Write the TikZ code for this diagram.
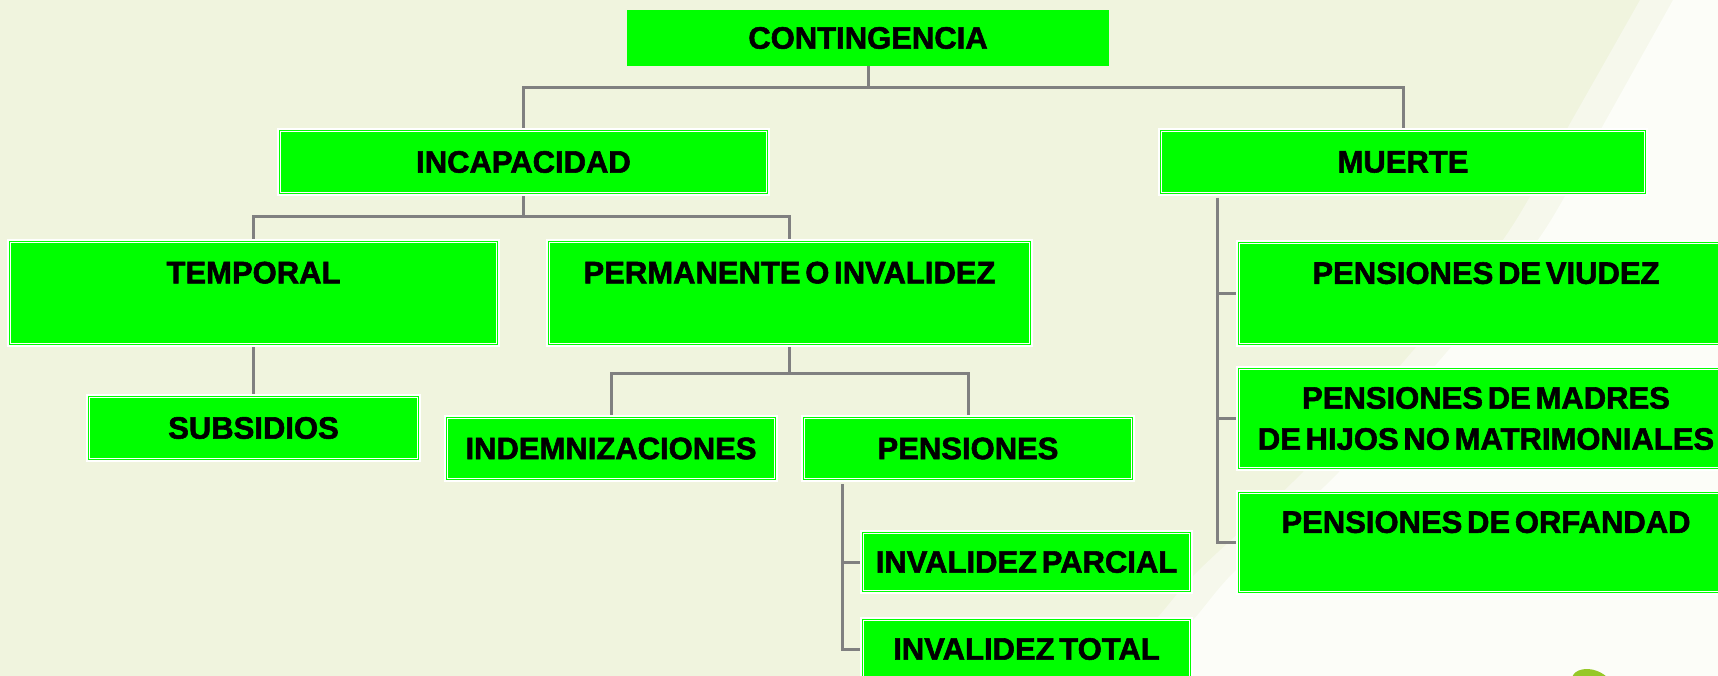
\documentclass[tikz,border=0pt]{standalone}
\usepackage{fontspec}
\setmainfont{Liberation Sans}[BoldFeatures={FakeBold=1.8}, WordSpace=0.55]
\usetikzlibrary{calc}
\pgfdeclarelayer{background}
\pgfsetlayers{background,main}
\definecolor{bgc}{RGB}{240,244,222}
\definecolor{wsw}{RGB}{252,253,248}
\definecolor{band}{RGB}{246,248,236}
\definecolor{G}{RGB}{0,255,0}
\definecolor{lc}{RGB}{128,128,128}
\definecolor{leaf}{RGB}{150,200,40}
\begin{document}
\begin{tikzpicture}[x=1pt,y=-1pt,
  font=\fontsize{31}{41}\selectfont\bfseries,
  gbox/.style={fill=G, draw=G, line width=1.2pt, double=white, double distance=1pt,
    preaction={draw=white, line width=7.4pt},
    inner sep=0pt, outer sep=0pt, align=center, text=black},
  plainbox/.style={fill=G, inner sep=0pt, outer sep=0pt, align=center, text=black},
  conn/.style={draw=lc, line width=3pt}]
\useasboundingbox (0,0) rectangle (1718,676);
\begin{pgfonlayer}{background}
  \fill[bgc] (0,0) rectangle (1718,676);
  \fill[band] plot[smooth] coordinates {(1640,0) (1572,120) (1505,237) (1405,360) (1302,473) (1196,573) (1148,627) (1080,676)}
     -- (1718,676) -- (1718,0) -- cycle;
  \fill[wsw] plot[smooth] coordinates {(1673,0) (1606,120) (1540,237) (1440,360) (1338,473) (1233,573) (1186,627) (1120,676)}
     -- (1718,676) -- (1718,0) -- cycle;
  \fill[leaf, rotate around={-20:(1592,684)}] (1592,684) ellipse (21 and 14);
\end{pgfonlayer}

\node[plainbox, minimum width=482pt, minimum height=56pt] (cont) at (868,38) {CONTINGENCIA};
\node[gbox, minimum width=485.6pt, minimum height=60.6pt] (incap) at (523.5,162) {INCAPACIDAD};
\node[gbox, minimum width=482.6pt, minimum height=60.6pt] (muerte) at (1403,162) {MUERTE};
\node[gbox, minimum width=485.6pt, minimum height=100.6pt] (temporal) at (253.5,293) {TEMPORAL\\~};
\node[gbox, minimum width=479.6pt, minimum height=100.6pt] (perm) at (789.5,293) {PERMANENTE O INVALIDEZ\\~};
\node[gbox, minimum width=327.6pt, minimum height=60.6pt] (subs) at (253.5,428) {SUBSIDIOS};
\node[gbox, minimum width=326.6pt, minimum height=59.6pt] (indem) at (611,448.5) {INDEMNIZACIONES};
\node[gbox, minimum width=326.6pt, minimum height=59.6pt] (pens) at (968,448.5) {PENSIONES};
\node[gbox, minimum width=325.6pt, minimum height=56.6pt] (invp) at (1026.5,562) {INVALIDEZ PARCIAL};
\node[gbox, minimum width=325.6pt, minimum height=56.6pt] (invt) at (1026.5,649) {INVALIDEZ TOTAL};
\node[gbox, minimum width=492.6pt, minimum height=99.6pt] (viudez) at (1486,293.5) {PENSIONES DE VIUDEZ\\~};
\node[gbox, minimum width=492.6pt, minimum height=97.6pt] (madres) at (1486,418.5) {PENSIONES DE MADRES\\DE HIJOS NO MATRIMONIALES};
\node[gbox, minimum width=492.6pt, minimum height=97.6pt] (orf) at (1486,542.5) {PENSIONES DE ORFANDAD\\~};

\coordinate (b1) at (868,88);
\coordinate (b2) at (523.5,217);
\coordinate (b3) at (789.5,373);
\coordinate (pv) at (842,484);
\coordinate (mv) at (1217,198);

\begin{pgfonlayer}{background}
  \draw[conn] (cont.south) -- (b1);
  \draw[conn] (incap.north) |- (b1) -| (muerte.north);
  \draw[conn] (incap.south) -- (b2);
  \draw[conn] (temporal.north) |- (b2) -| (perm.north);
  \draw[conn] (temporal.south) -- (subs.north);
  \draw[conn] (perm.south) -- (b3);
  \draw[conn] (indem.north) |- (b3) -| (pens.north);
  \draw[conn] (pv) |- (invp.west);
  \draw[conn] (pv) |- (invt.west);
  \draw[conn] (mv) |- (viudez.west);
  \draw[conn] (mv) |- (madres.west);
  \draw[conn] (mv) |- (orf.west);
\end{pgfonlayer}
\end{tikzpicture}
\end{document}
